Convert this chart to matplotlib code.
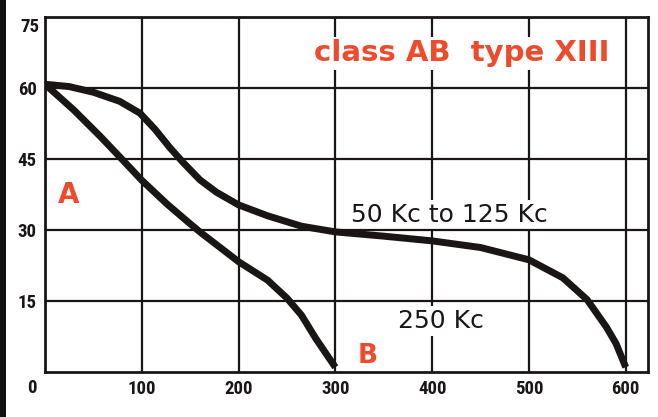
import matplotlib
matplotlib.use("Agg")
import matplotlib.pyplot as plt
from matplotlib.patches import Rectangle
from matplotlib import font_manager as fm

# ---- data ----
upper_x = [0, 25, 50, 77, 98, 114, 129, 143, 160, 177, 200, 230, 265, 300, 350, 400, 450, 500, 535, 560, 580, 590, 600]
upper_y = [60.8, 60.3, 59.1, 57.2, 54.7, 51.2, 47.4, 44.2, 40.6, 38.0, 35.3, 33.0, 30.8, 29.6, 28.7, 27.7, 26.3, 23.7, 19.9, 15.3, 9.5, 6.0, 1.0]

lower_x = [0, 30, 57, 77, 100, 126, 146, 160, 200, 230, 250, 265, 280, 300]
lower_y = [60.8, 55.3, 49.8, 45.5, 40.5, 35.5, 32.0, 29.6, 23.3, 19.4, 15.6, 12.0, 7.0, 1.0]

x_ticks = [100, 200, 300, 400, 500, 600]
y_ticks = [15, 30, 45, 60]

title_text = "class AB  type XIII"
upper_label = "50 Kc to 125 Kc"
lower_label = "250 Kc"

RED = "#ee4a2c"
INK = "#1a1616"


def tick_fontprops(size):
    """Prefer a condensed bold sans for the tick numbers, if one is installed."""
    wanted = ["Liberation Sans Narrow", "DejaVu Sans Condensed", "Roboto Condensed",
              "Noto Sans Condensed", "Open Sans Condensed"]
    entries = fm.fontManager.ttflist
    for name in wanted:
        for f in entries:
            if f.name == name and (f.weight in ("bold", 700) or str(f.weight) == "700"):
                return fm.FontProperties(fname=f.fname, size=size)
    for f in entries:
        if (f.stretch not in ("normal", 500) and "condensed" in str(f.stretch)
                and str(f.weight) in ("bold", "700") and f.style == "normal"
                and any(k in f.name for k in ("Sans", "Roboto", "Liberation"))):
            return fm.FontProperties(fname=f.fname, size=size)
    return fm.FontProperties(family=["Liberation Sans", "DejaVu Sans"], weight="bold", size=size - 1)


fig = plt.figure(figsize=(6.58, 4.17), dpi=100)
fig.patch.set_facecolor("white")
fig.patches.append(Rectangle((0, 0), 6 / 658, 1, transform=fig.transFigure,
                             facecolor="#111111", edgecolor="none", zorder=0))

ax = fig.add_axes([45 / 658, 45 / 417, 603 / 658, 355 / 417])
ax.set_xlim(0, 623)
ax.set_ylim(0, 75)

# vertical grid lines sit under the text boxes, horizontal ones above them
for v in x_ticks:
    ax.axvline(v, color=INK, lw=1.6, zorder=1)
for v in y_ticks:
    ax.axhline(v, color=INK, lw=1.6, zorder=5)

for s in ax.spines.values():
    s.set_linewidth(2.0)
    s.set_color(INK)

tp = tick_fontprops(13.5)
ax.set_xticks(x_ticks)
ax.set_xticklabels([str(v) for v in x_ticks], fontproperties=tp, color=INK)
ax.set_yticks(y_ticks)
ax.set_yticklabels([str(v) for v in y_ticks], fontproperties=tp, color=INK)
ax.tick_params(length=0, pad=6)
ax.text(-6, 72.9, "75", ha="right", va="center", fontproperties=tp, color=INK, clip_on=False)
ax.text(-13.5, -3.3, "0", ha="center", va="center", fontproperties=tp, color=INK, clip_on=False)

ax.plot(upper_x, upper_y, color=INK, lw=5, solid_joinstyle="round", solid_capstyle="butt", zorder=6)
ax.plot(lower_x, lower_y, color=INK, lw=5, solid_joinstyle="round", solid_capstyle="butt", zorder=6)

box = dict(facecolor="white", edgecolor="none", pad=2)
ax.text(431, 65.6, title_text, ha="center", va="baseline", color=RED,
        family="DejaVu Sans", weight="bold", size=21, bbox=box, zorder=4)
ax.text(418, 31.75, upper_label, ha="center", va="baseline", color=INK,
        family="DejaVu Sans", size=18, bbox=box, zorder=4)
ax.text(409, 9.3, lower_label, ha="center", va="baseline", color=INK,
        family="DejaVu Sans", size=18, bbox=box, zorder=4)
ax.text(24.3, 35.7, "A", ha="center", va="baseline", color=RED,
        family="DejaVu Sans", weight="bold", size=20, zorder=4)
ax.text(333.7, 1.9, "B", ha="center", va="baseline", color=RED,
        family="DejaVu Sans", weight="bold", size=19, zorder=4)

fig.savefig("out.png", dpi=100, facecolor="white")
